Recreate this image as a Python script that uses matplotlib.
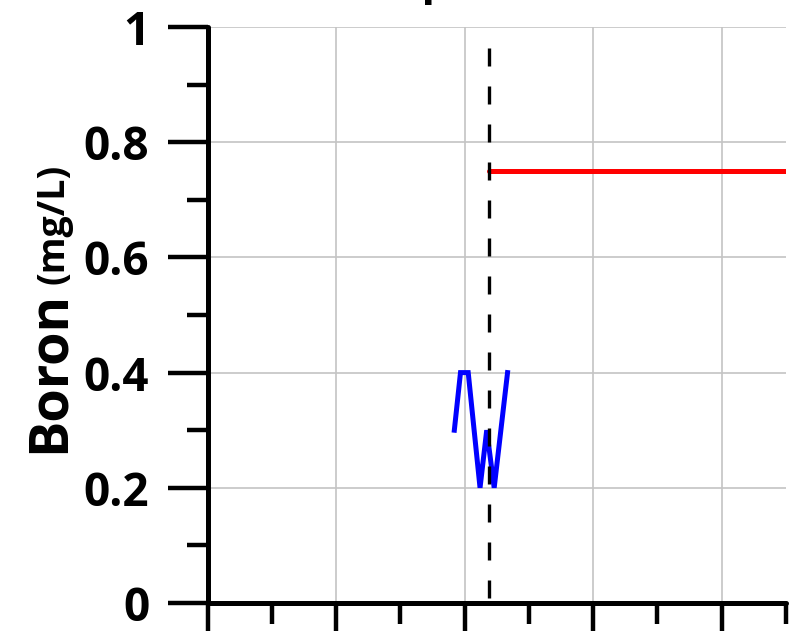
import matplotlib
matplotlib.use("Agg")
import matplotlib.pyplot as plt

# Boron sampling record (decimal years) and concentrations in mg/L
sample_years = [1999.60, 1999.84, 2000.14, 2000.60, 2000.86, 2001.15, 2001.67]
boron_mgL = [0.30, 0.40, 0.40, 0.20, 0.30, 0.20, 0.40]

# Regulatory limit applied from the change date onward
limit_years = [2000.95, 2012.5]
limit_mgL = [0.75, 0.75]
change_year = 2000.95

x_range = (1990, 2012.5)
x_major = [1990, 1995, 2000, 2005, 2010]
x_minor = [1992.5, 1997.5, 2002.5, 2007.5, 2012.5]
y_major = [0, 0.2, 0.4, 0.6, 0.8, 1]
y_major_labels = ["0", "0.2", "0.4", "0.6", "0.8", "1"]
y_minor = [0.1, 0.3, 0.5, 0.7, 0.9]

plt.rcParams["font.family"] = ["Open Sans", "DejaVu Sans"]

W, H = 792, 631
fig = plt.figure(figsize=(W / 100, H / 100), dpi=100)
ax = fig.add_axes([207.5 / W, 28 / H, 578.5 / W, 576 / H])

ax.set_xlim(*x_range)
ax.set_ylim(0, 1)

ax.grid(True, color="#c4c4c4", linewidth=1.2, zorder=0)
ax.set_axisbelow(True)

ax.plot(sample_years, boron_mgL, color="#0000ff", linewidth=3.6,
        solid_joinstyle="miter", zorder=3)
ax.plot(limit_years, limit_mgL, color="#ff0000", linewidth=3.6,
        solid_capstyle="round", zorder=3)
ax.plot([change_year, change_year], [0.9635, 0], color="black",
        linewidth=2.4, linestyle=(0, (5.4, 6.0)), zorder=4)

for side in ("top", "right"):
    ax.spines[side].set_visible(False)
for side in ("left", "bottom"):
    ax.spines[side].set_linewidth(3.6)
    ax.spines[side].set_capstyle("round")

ax.set_xticks(x_major)
ax.set_xticks(x_minor, minor=True)
ax.set_yticks(y_major)
ax.set_yticklabels(y_major_labels)
ax.set_yticks(y_minor, minor=True)

ax.tick_params(which="major", length=29, width=3.2, direction="out",
               labelsize=33, pad=13)
ax.tick_params(which="minor", length=15, width=3.2, direction="out")
ax.tick_params(axis="x", labelbottom=False)
for lab in ax.get_yticklabels():
    lab.set_fontweight("bold")

ax.set_title("Deep Well MW-1", fontsize=32, fontweight="bold", pad=24, x=0.53)

# Y-axis label: large "Boron" followed by smaller unit text
name_txt = fig.text(64 / W, (H - 453) / H, "Boron", rotation=90,
                    rotation_mode="anchor", ha="left", va="baseline",
                    fontsize=39, fontweight="bold")
renderer = fig.canvas.get_renderer()
name_top = name_txt.get_window_extent(renderer).y1
fig.text(64 / W, (name_top + 7) / H, "(mg/L)", rotation=90,
         rotation_mode="anchor", ha="left", va="baseline",
         fontsize=27, fontweight="bold")

fig.savefig("out.png", dpi=100)
